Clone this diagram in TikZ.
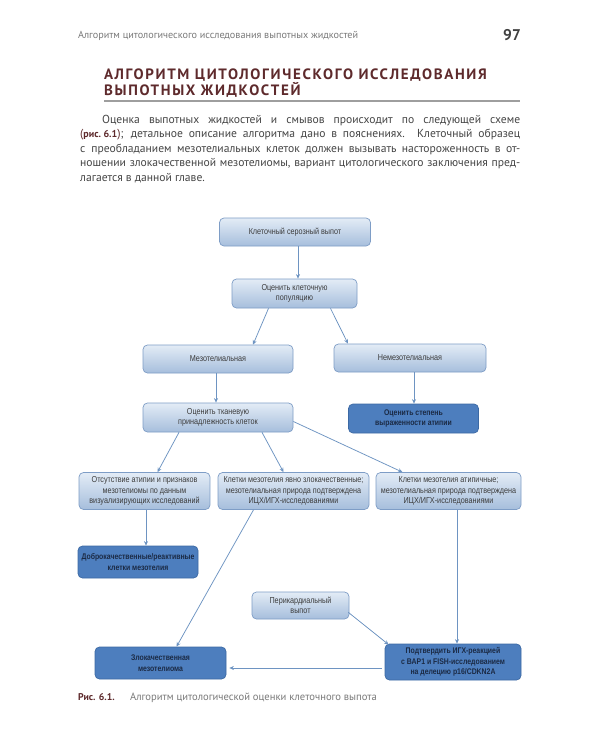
\documentclass[tikz,border=0pt]{standalone}
\usepackage{fontspec}
\setmainfont{PT Sans}
\newfontfamily\boxfont[FakeStretch=0.84]{Liberation Sans}
\newfontfamily\titlefont[LetterSpace=11]{PT Sans}
\usetikzlibrary{arrows.meta,calc}
\definecolor{ltop}{HTML}{E3ECF6}
\definecolor{lbot}{HTML}{A6BEDC}
\definecolor{lborder}{HTML}{7E9DC6}
\definecolor{dfill}{HTML}{4D7EBE}
\definecolor{dborder}{HTML}{3C69A4}
\definecolor{dtext}{HTML}{1B2A44}
\definecolor{btext}{HTML}{3C3C3C}
\definecolor{arrowc}{HTML}{6E94C2}
\definecolor{maroon}{HTML}{5E2A2C}
\definecolor{bodytext}{HTML}{454545}
\definecolor{headgray}{HTML}{7A7A7A}
\tikzset{
  lbox/.style={draw=lborder, line width=0.7pt, rounded corners=4.5pt, top color=ltop, bottom color=lbot,
    align=center, inner sep=0pt, text=btext, font=\boxfont\fontsize{8.6}{10.3}\selectfont},
  dbox/.style={draw=dborder, line width=0.7pt, rounded corners=4.5pt, fill=dfill,
    align=center, inner sep=0pt, text=dtext, font=\boxfont\bfseries\fontsize{8.2}{10.5}\selectfont},
  conn/.style={draw=arrowc, line width=0.75pt, -{Stealth[length=4.5pt,width=4pt]}},
  bodyline/.style={anchor=base west, inner sep=0pt, text=bodytext, font=\fontsize{11.6}{14}\selectfont},
}
\begin{document}
\begin{tikzpicture}[x=1pt,y=-1pt]
\useasboundingbox (0,0) rectangle (600,750);
\fill[white] (0,0) rectangle (600,750);
% header
\node[anchor=base west, inner sep=0pt, text=headgray, font=\fontsize{10.2}{11}\selectfont] (hdr) at (78,38) {Алгоритм цитологического исследования выпотных жидкостей};
\node[anchor=base east, inner sep=0pt, text=black!75, font=\bfseries\fontsize{15.5}{17}\selectfont] (pg) at (521,40.5) {97};
% title
\node[anchor=base west, inner sep=0pt, text=maroon, font=\titlefont\bfseries\fontsize{15}{17}\selectfont] (t1) at (104,79.5) {АЛГОРИТМ ЦИТОЛОГИЧЕСКОГО ИССЛЕДОВАНИЯ};
\node[anchor=base west, inner sep=0pt, text=maroon, font=\titlefont\bfseries\fontsize{15}{17}\selectfont] (t2) at (104,95) {ВЫПОТНЫХ ЖИДКОСТЕЙ};
\draw[black!38, line width=1.6pt] (104,101) -- (520,101);
% paragraph
\node[bodyline] (p1) at (102,123) {\makebox[418pt][s]{Оценка выпотных жидкостей и смывов происходит по следующей схеме}};
\node[bodyline] (p2) at (80,137.5) {\makebox[440pt][s]{{\color{maroon}(\textbf{\fontsize{10}{12}\selectfont рис.\kern2.5pt6.1})}; детальное описание алгоритма дано в пояснениях. Клеточный образец}};
\node[bodyline] (p3) at (80,152) {\makebox[440pt][s]{с\kern6pt преобладанием мезотелиальных клеток должен вызывать настороженность в от-}};
\node[bodyline] (p4) at (80,166.5) {\makebox[440pt][s]{ношении злокачественной мезотелиомы, вариант цитологического заключения пред-}};
\node[bodyline] (p5) at (80,181) {лагается в данной главе.};
% diagram nodes
\node[lbox, minimum width=151pt, minimum height=28pt] (n1) at (295,232) {Клеточный серозный выпот};
\node[lbox, minimum width=125pt, minimum height=29pt] (n2) at (294.5,293.5) {Оценить клеточную\\популяцию};
\node[lbox, minimum width=150pt, minimum height=28pt] (n3) at (218,359) {Мезотелиальная};
\node[lbox, minimum width=152pt, minimum height=28pt] (n4) at (410,358) {Немезотелиальная};
\node[lbox, minimum width=150pt, minimum height=29pt] (n5) at (218,417.5) {Оценить тканевую\\принадлежность клеток};
\node[dbox, minimum width=130pt, minimum height=29pt] (n6) at (413.5,418.5) {Оценить степень\\выраженности атипии};
\node[lbox, minimum width=131pt, minimum height=37pt] (n7) at (144.5,491) {Отсутствие атипии и признаков\\мезотелиомы по данным\\визуализирующих исследований};
\node[lbox, minimum width=151pt, minimum height=37pt] (n8) at (293.5,491) {Клетки мезотелия явно злокачественные;\\мезотелиальная природа подтверждена\\ИЦХ/ИГХ-исследованиями};
\node[lbox, minimum width=145pt, minimum height=37pt] (n9) at (448.5,491) {Клетки мезотелия атипичные;\\мезотелиальная природа подтверждена\\ИЦХ/ИГХ-исследованиями};
\node[dbox, minimum width=120pt, minimum height=32pt] (n10) at (138,562) {Доброкачественные/реактивные\\клетки мезотелия};
\node[lbox, minimum width=97pt, minimum height=27pt] (n11) at (300.5,605.5) {Перикардиальный\\выпот};
\node[dbox, minimum width=131pt, minimum height=32pt] (n12) at (160.5,663) {Злокачественная\\мезотелиома};
\node[dbox, minimum width=136pt, minimum height=36pt] (n13) at (453,662) {Подтвердить ИГХ-реакцией\\с BAP1 и FISH-исследованием\\на делецию p16/CDKN2A};
% connectors
\draw[conn] ([xshift=3pt]n1.south) -- ([xshift=3pt]n1.south |- n2.north);
\draw[conn] ([xshift=-26pt]n2.south) -- ([xshift=35pt]n3.north);
\draw[conn] ([xshift=36pt]n2.south) -- ([xshift=-62pt]n4.north);
\draw[conn] ([xshift=-2pt]n3.south) -- ([xshift=-2pt]n3.south |- n5.north);
\draw[conn] ([xshift=4pt]n4.south) -- ([xshift=4pt]n4.south |- n6.north);
\draw[conn] ([xshift=-39pt]n5.south) -- ([xshift=13pt]n7.north);
\draw[conn] ([xshift=44pt]n5.south) -- ([xshift=-10pt]n8.north);
\draw[conn] ([yshift=-4pt]n5.east) -- ([xshift=-46pt]n9.north);
\draw[conn] ([xshift=1.5pt]n7.south) -- ([xshift=1.5pt]n7.south |- n10.north);
\draw[conn] ([xshift=-40pt]n8.south) -- ([xshift=16pt]n12.north);
\draw[conn] ([xshift=8.5pt]n9.south) -- ([xshift=8.5pt]n9.south |- n13.north);
\draw[conn] ([xshift=-1pt,yshift=7pt]n11.south east) -- ([xshift=4pt,yshift=-1pt]n13.north west);
\draw[conn] ([xshift=-3pt,yshift=-6pt]n13.west) -- ([yshift=-6pt]n13.west -| {$(n12.east)+(3pt,0)$});
% caption
\node[anchor=base west, inner sep=0pt, text=maroon, font=\bfseries\fontsize{9.8}{11}\selectfont] (cap1) at (78,700.5) {Рис. 6.1.};
\node[anchor=base west, inner sep=0pt, text=headgray, font=\fontsize{10.6}{12}\selectfont] (cap2) at (130,700.5) {Алгоритм цитологической оценки клеточного выпота};
\end{tikzpicture}
\end{document}
